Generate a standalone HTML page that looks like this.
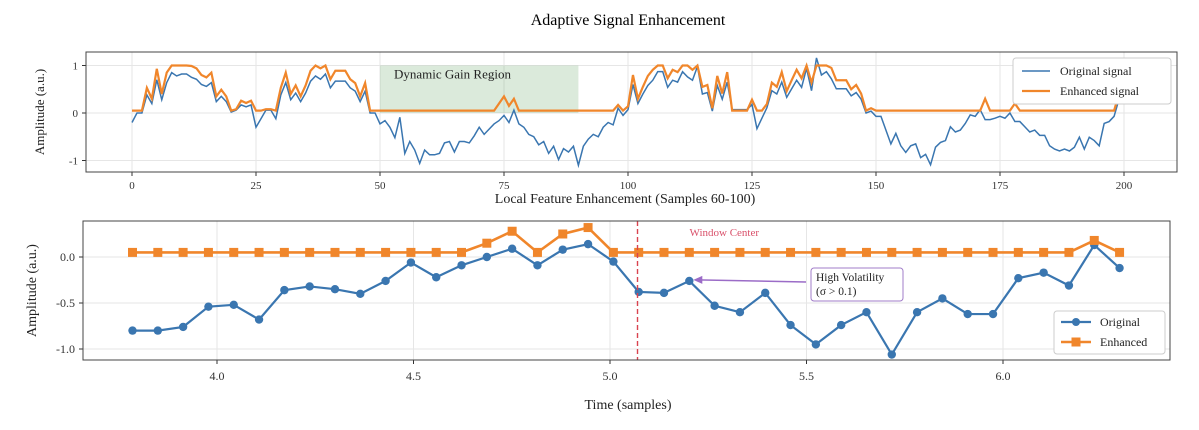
<!DOCTYPE html>
<html><head><meta charset="utf-8"><style>
html,body{margin:0;padding:0;background:#fff;}
svg{display:block;font-family:"Liberation Serif",serif;}
</style></head><body>
<svg id="chart" width="1199" height="430" viewBox="0 0 1199 430" xmlns="http://www.w3.org/2000/svg">
<text x="628" y="25" text-anchor="middle" font-size="16">Adaptive Signal Enhancement</text>
<g id="top"></g>
<g id="bot"></g>
</svg>
<script>
const topOriginal=[-0.2,0.0,0.0,0.38,0.2,0.7,0.28,0.64,0.85,0.78,0.82,0.82,0.75,0.71,0.6,0.56,0.64,0.24,0.35,0.24,0.02,0.06,0.17,0.13,0.17,-0.3,-0.12,0.06,0.06,-0.12,0.38,0.64,0.28,0.42,0.24,0.42,0.67,0.78,0.71,0.82,0.53,0.67,0.67,0.67,0.53,0.46,0.24,0.46,0.0,0.0,
-0.23,-0.16,-0.3,-0.52,-0.09,-0.85,-0.6,-0.78,-1.06,-0.78,-0.88,-0.88,-0.85,-0.63,-0.6,-0.82,-0.6,-0.6,-0.63,-0.48,-0.3,-0.45,-0.34,-0.23,-0.16,-0.05,-0.2,0.06,-0.23,-0.3,-0.45,-0.5,-0.67,-0.6,-0.85,-0.7,-0.98,-0.75,-0.82,-0.7,-1.1,-0.7,-0.55,-0.45,-0.5,-0.3,-0.2,-0.25,0.1,-0.05,
0.07,0.6,0.2,0.4,0.58,0.69,0.87,0.87,0.54,0.69,0.65,0.87,0.76,0.69,0.98,0.4,0.43,0.04,0.58,0.29,0.65,0.07,0.07,0.07,0.07,0.18,-0.33,-0.11,0.11,0.47,0.4,0.65,0.33,0.51,0.69,0.54,0.94,0.47,1.16,0.8,0.87,0.72,0.51,0.51,0.51,0.36,0.43,0.29,0.0,0.04,
-0.07,-0.07,-0.36,-0.65,-0.43,-0.69,-0.83,-0.69,-0.65,-0.94,-0.87,-1.09,-0.72,-0.62,-0.58,-0.29,-0.4,-0.36,-0.22,-0.04,-0.07,0.07,-0.14,-0.14,-0.11,-0.07,-0.11,0.0,-0.18,-0.18,-0.29,-0.4,-0.36,-0.47,-0.47,-0.69,-0.76,-0.8,-0.76,-0.8,-0.72,-0.51,-0.76,-0.51,-0.58,-0.69,-0.22,-0.18,-0.07,0.29];
const topEnhanced=[0.05,0.05,0.05,0.53,0.3,0.93,0.4,0.85,1,1,1,1,0.99,0.94,0.8,0.75,0.85,0.35,0.49,0.35,0.05,0.08,0.26,0.21,0.26,0.05,0.05,0.08,0.08,0.05,0.53,0.85,0.4,0.58,0.35,0.58,0.89,1,0.94,1,0.71,0.89,0.89,0.89,0.71,0.63,0.35,0.63,0.05,0.05,
0.05,0.05,0.05,0.05,0.05,0.05,0.05,0.05,0.05,0.05,0.05,0.05,0.05,0.05,0.05,0.05,0.05,0.05,0.05,0.05,0.05,0.05,0.05,0.05,0.2,0.35,0.15,0.3,0.05,0.05,0.05,0.05,0.05,0.05,0.05,0.05,0.05,0.05,0.05,0.05,0.05,0.05,0.05,0.05,0.05,0.05,0.05,0.05,0.17,0.05,
0.14,0.8,0.3,0.55,0.78,0.91,1,1,0.73,0.91,0.86,1,1,0.91,1,0.55,0.59,0.1,0.78,0.41,0.86,0.05,0.05,0.05,0.05,0.28,0.05,0.05,0.19,0.64,0.55,0.86,0.46,0.69,0.91,0.73,1,0.64,1,1,1,0.95,0.69,0.69,0.69,0.5,0.59,0.41,0.05,0.1,
0.05,0.05,0.05,0.05,0.05,0.05,0.05,0.05,0.05,0.05,0.05,0.05,0.05,0.05,0.05,0.05,0.05,0.05,0.05,0.05,0.05,0.05,0.3,0.05,0.05,0.05,0.05,0.05,0.2,0.05,0.05,0.05,0.05,0.05,0.05,0.05,0.05,0.05,0.05,0.05,0.05,0.05,0.05,0.05,0.05,0.05,0.05,0.05,0.05,0.4];
const topXTicks=[0,25,50,75,100,125,150,175,200];
const topYTicks=[1,0,-1];
const botOriginal=[-0.80,-0.80,-0.76,-0.54,-0.52,-0.68,-0.36,-0.32,-0.35,-0.40,-0.26,-0.06,-0.22,-0.09,0.0,0.09,-0.09,0.08,0.14,-0.05,
-0.38,-0.39,-0.26,-0.53,-0.60,-0.39,-0.74,-0.95,-0.74,-0.60,-1.06,-0.60,-0.45,-0.62,-0.62,-0.23,-0.17,-0.31,0.13,-0.12];
const botEnhanced=[0.05,0.05,0.05,0.05,0.05,0.05,0.05,0.05,0.05,0.05,0.05,0.05,0.05,0.05,0.15,0.28,0.05,0.25,0.32,0.05,
0.05,0.05,0.05,0.05,0.05,0.05,0.05,0.05,0.05,0.05,0.05,0.05,0.05,0.05,0.05,0.05,0.05,0.05,0.18,0.05];
const botStartTime=3.785, botStep=0.0644;
const botXTicks=[4.0,4.5,5.0,5.5,6.0];
const botYTicks=[0.0,-0.5,-1.0];
const windowCenter=5.07;
const gainRegion=[50,90];

const NS="http://www.w3.org/2000/svg";
function mk(p,t,a){const e=document.createElementNS(NS,t);for(const k in a)e.setAttribute(k,a[k]);p.appendChild(e);return e;}
const BLUE="#3a76b0",ORANGE="#f0862b";

// ---- top panel
const T=document.getElementById('top');
const tx=i=>132+i*4.96, ty=v=>113-v*47.5;
const tf={l:86,r:1177,t:52,b:172};
let g;
topXTicks.forEach(v=>{g=mk(T,'line',{x1:tx(v),x2:tx(v),y1:tf.t,y2:tf.b,stroke:'#e6e6e6'});

g=mk(T,'line',{x1:tx(v),x2:tx(v),y1:tf.b,y2:tf.b+4,stroke:'#333'});
g=mk(T,'text',{x:tx(v),y:tf.b+17,'text-anchor':'middle','font-size':11,fill:'#333'});g.textContent=v;
});
topYTicks.forEach(v=>{g=mk(T,'line',{x1:tf.l,x2:tf.r,y1:ty(v),y2:ty(v),stroke:'#e6e6e6'});

mk(T,'line',{x1:tf.l-4,x2:tf.l,y1:ty(v),y2:ty(v),stroke:'#333'});
g=mk(T,'text',{x:tf.l-8,y:ty(v)+4,'text-anchor':'end','font-size':11,fill:'#333'});g.textContent=v;
});
g=mk(T,'rect',{x:tx(gainRegion[0]),y:ty(1.0),width:tx(gainRegion[1])-tx(gainRegion[0]),height:ty(0)-ty(1.0),fill:'rgba(90,160,90,0.22)'});

g=mk(T,'text',{x:tx(gainRegion[0])+14,y:ty(1.0)+13,'font-size':13,fill:'#222'});g.textContent='Dynamic Gain Region';

g=mk(T,'polyline',{points:topOriginal.map((v,i)=>tx(i)+','+ty(v)).join(' '),fill:'none',stroke:BLUE,'stroke-width':1.5});

g=mk(T,'polyline',{points:topEnhanced.map((v,i)=>tx(i)+','+ty(v)).join(' '),fill:'none',stroke:ORANGE,'stroke-width':2.2});

g=mk(T,'rect',{x:tf.l,y:tf.t,width:tf.r-tf.l,height:tf.b-tf.t,fill:'none',stroke:'#444','stroke-width':1});

g=mk(T,'text',{x:0,y:0,transform:`translate(44,${(tf.t+tf.b)/2}) rotate(-90)`,'text-anchor':'middle','font-size':13,fill:'#222'});g.textContent='Amplitude (a.u.)';

g=mk(T,'g',{});
mk(g,'rect',{x:1013,y:58,width:158,height:46,fill:'#fff',stroke:'#ccc',rx:3});
mk(g,'line',{x1:1022,x2:1050,y1:71,y2:71,stroke:BLUE,'stroke-width':1.5});
let lt=mk(g,'text',{x:1060,y:75,'font-size':12,fill:'#222'});lt.textContent='Original signal';
mk(g,'line',{x1:1022,x2:1050,y1:91,y2:91,stroke:ORANGE,'stroke-width':2.2});
lt=mk(g,'text',{x:1060,y:95,'font-size':12,fill:'#222'});lt.textContent='Enhanced signal';

// ---- bottom panel
const B=document.getElementById('bot');
const bx=t=>217+(t-4.0)*393, by=v=>257-v*92;
const bf={l:83,r:1170,t:221,b:360};
botXTicks.forEach(v=>{g=mk(B,'line',{x1:bx(v),x2:bx(v),y1:bf.t,y2:bf.b,stroke:'#e6e6e6'});

mk(B,'line',{x1:bx(v),x2:bx(v),y1:bf.b,y2:bf.b+4,stroke:'#333'});
g=mk(B,'text',{x:bx(v),y:bf.b+20,'text-anchor':'middle','font-size':12,fill:'#333'});g.textContent=v.toFixed(1);
});
botYTicks.forEach(v=>{g=mk(B,'line',{x1:bf.l,x2:bf.r,y1:by(v),y2:by(v),stroke:'#e6e6e6'});

mk(B,'line',{x1:bf.l-4,x2:bf.l,y1:by(v),y2:by(v),stroke:'#333'});
g=mk(B,'text',{x:bf.l-8,y:by(v)+4,'text-anchor':'end','font-size':12,fill:'#333'});g.textContent=v.toFixed(1);
});
const bt=botOriginal.map((v,i)=>botStartTime+i*botStep);
g=mk(B,'polyline',{points:botOriginal.map((v,i)=>bx(bt[i])+','+by(v)).join(' '),fill:'none',stroke:BLUE,'stroke-width':2.2});

botOriginal.forEach((v,i)=>{const c=mk(B,'circle',{cx:bx(bt[i]),cy:by(v),r:4.2,fill:BLUE});

});
g=mk(B,'polyline',{points:botEnhanced.map((v,i)=>bx(bt[i])+','+by(v)).join(' '),fill:'none',stroke:ORANGE,'stroke-width':2.6});

botEnhanced.forEach((v,i)=>{const s=mk(B,'rect',{x:bx(bt[i])-4.5,y:by(v)-4.5,width:9,height:9,fill:ORANGE});

});
g=mk(B,'line',{x1:bx(windowCenter),x2:bx(windowCenter),y1:bf.t,y2:bf.b,stroke:'#d9434f','stroke-width':1.4,'stroke-dasharray':'5,3'});

g=mk(B,'text',{x:bx(windowCenter)+52,y:bf.t+15,'font-size':11,fill:'#d9506a'});g.textContent='Window Center';

const ai=22;
g=mk(B,'g',{});
mk(g,'rect',{x:811,y:268,width:92,height:33,fill:'#fff',stroke:'#a07cc8',rx:3});
mk(g,'line',{x1:806,y1:282,x2:bx(bt[ai])+8,y2:by(botOriginal[ai])-1,stroke:'#9b6cc7','stroke-width':1.5});
mk(g,'path',{d:`M${bx(bt[ai])+4},${by(botOriginal[ai])-1} l9,-4 l0,8 z`,fill:'#9b6cc7'});
let at=mk(g,'text',{x:816,y:281,'font-size':11.5,fill:'#222'});at.textContent='High Volatility';
at=mk(g,'text',{x:816,y:295,'font-size':11.5,fill:'#222'});at.textContent='(σ > 0.1)';
g=mk(B,'rect',{x:bf.l,y:bf.t,width:bf.r-bf.l,height:bf.b-bf.t,fill:'none',stroke:'#444','stroke-width':1});

g=mk(B,'text',{x:625,y:203,'text-anchor':'middle','font-size':14,fill:'#222'});g.textContent='Local Feature Enhancement (Samples 60-100)';

g=mk(B,'text',{x:628,y:409,'text-anchor':'middle','font-size':14,fill:'#222'});g.textContent='Time (samples)';

g=mk(B,'text',{x:0,y:0,transform:`translate(36,${(bf.t+bf.b)/2}) rotate(-90)`,'text-anchor':'middle','font-size':14,fill:'#222'});g.textContent='Amplitude (a.u.)';

g=mk(B,'g',{});
mk(g,'rect',{x:1054,y:311,width:111,height:43,fill:'#fff',stroke:'#ccc',rx:3});
mk(g,'line',{x1:1061,x2:1091,y1:322,y2:322,stroke:BLUE,'stroke-width':2.2});
mk(g,'circle',{cx:1076,cy:322,r:4,fill:BLUE});
lt=mk(g,'text',{x:1100,y:326,'font-size':12,fill:'#222'});lt.textContent='Original';
mk(g,'line',{x1:1061,x2:1091,y1:342,y2:342,stroke:ORANGE,'stroke-width':2.6});
mk(g,'rect',{x:1071.5,y:337.5,width:9,height:9,fill:ORANGE});
lt=mk(g,'text',{x:1100,y:346,'font-size':12,fill:'#222'});lt.textContent='Enhanced';
</script>
</body></html>
